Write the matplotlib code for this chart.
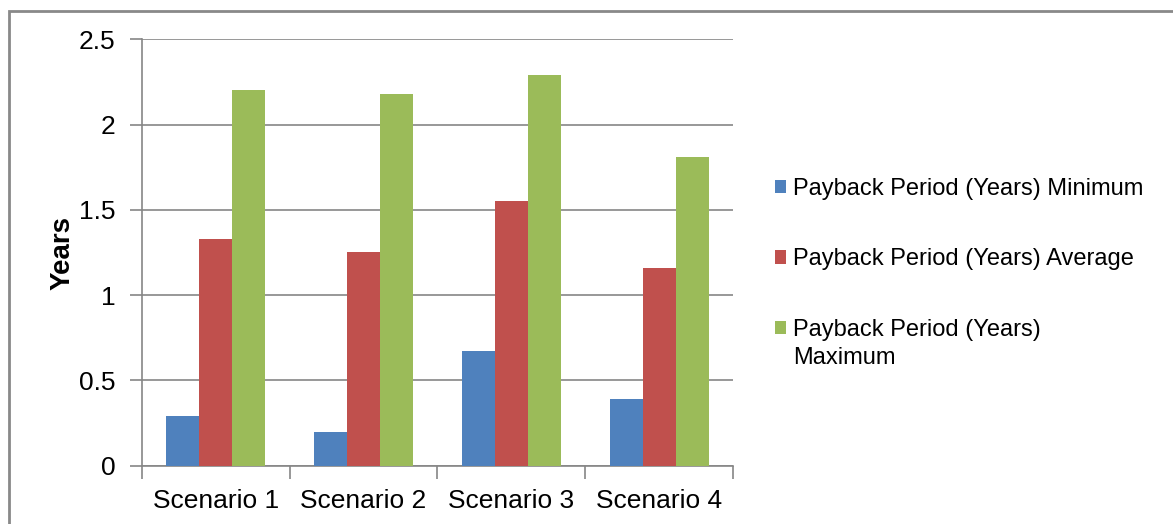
import numpy as np
import matplotlib.pyplot as plt
from matplotlib.patches import Rectangle

plt.rcParams["font.family"] = ["Liberation Sans", "DejaVu Sans"]

scenarios = ["Scenario 1", "Scenario 2", "Scenario 3", "Scenario 4"]
series_names = [
    "Payback Period (Years) Minimum",
    "Payback Period (Years) Average",
    "Payback Period (Years)",
]
max_label_second_line = "Maximum"
minimum = [0.29, 0.20, 0.67, 0.39]
average = [1.33, 1.25, 1.55, 1.16]
maximum = [2.20, 2.18, 2.29, 1.81]
colors = ["#4F81BD", "#C0504D", "#9BBB59"]
y_ticks = [0, 0.5, 1, 1.5, 2, 2.5]

grid_color = "#868686"

fig = plt.figure(figsize=(11.73, 5.24), dpi=100)
ax = fig.add_axes([141.7 / 1173, 58.3 / 524, (733.3 - 141.7) / 1173, (465.7 - 39.3) / 524])

x = np.arange(len(scenarios))
width = 1 / 4.5
for i, (vals, name, col) in enumerate(zip([minimum, average, maximum], series_names, colors)):
    ax.bar(x + (i - 1) * width, vals, width, color=col, label=name, zorder=3)

ax.set_xlim(-0.5, len(scenarios) - 0.5)
ax.set_ylim(0, 2.5)
ax.set_yticks(y_ticks)
ax.set_yticklabels(["0", "0.5", "1", "1.5", "2", "2.5"])
ax.yaxis.grid(True, color=grid_color, linewidth=1.2, zorder=0)

# category ticks sit on the boundaries between groups
ax.set_xticks(x)
ax.set_xticklabels(scenarios)
ax.tick_params(axis="x", length=0, labelsize=19, pad=17)
ax.set_xticks(np.arange(len(scenarios) + 1) - 0.5, minor=True)
ax.tick_params(axis="x", which="minor", length=9, color=grid_color, width=1.2)
ax.tick_params(axis="y", length=9, color=grid_color, width=1.2, labelsize=19, pad=10)

for side in ["top", "right"]:
    ax.spines[side].set_visible(False)
for side in ["left", "bottom"]:
    ax.spines[side].set_color(grid_color)
    ax.spines[side].set_linewidth(1.2)

ax.set_ylabel("Years", fontsize=20, fontweight="bold", labelpad=2)

leg = ax.legend(
    loc="center left", bbox_to_anchor=(1.05, 0.484), frameon=False, fontsize=17,
    borderpad=0, handlelength=0.5, handleheight=0.5, handletextpad=0.26, labelspacing=2.05,
)

# second line of the last legend entry, so the marker stays on the first line
fig.canvas.draw()
bb = leg.get_texts()[2].get_window_extent()
fig.text(bb.x0, bb.y0 - 6, max_label_second_line, fontsize=17, ha="left", va="top",
         transform=None)

# outer chart border
fig.patches.append(Rectangle((9 / 1173, -0.1), 1.2, 1.1 - 11 / 524, transform=fig.transFigure,
                             fill=False, edgecolor="#898989", linewidth=2))

fig.savefig("out.png", dpi=100)
